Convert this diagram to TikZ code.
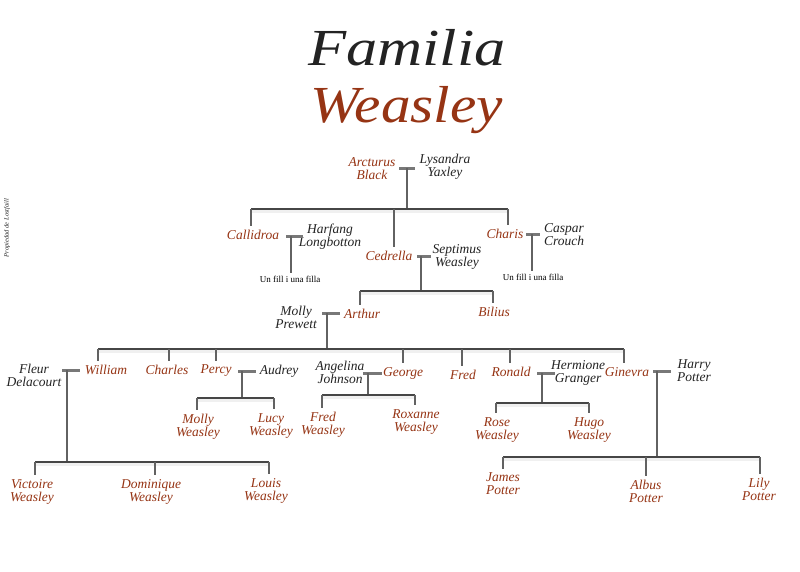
\documentclass[tikz,border=0pt]{standalone}
\usepackage{fontspec}
\setmainfont{Liberation Serif}
\definecolor{rust}{RGB}{150,52,20}
\definecolor{ink}{RGB}{35,35,35}
\definecolor{barcol}{RGB}{120,120,120}
\definecolor{linecol}{RGB}{70,70,70}
\begin{document}
\begin{tikzpicture}[x=1pt,y=-1pt,
  wz/.style={text=rust,font=\itshape\fontsize{13.5}{13}\selectfont,align=center,inner sep=0pt},
  sp/.style={text=ink,font=\itshape\fontsize{13.5}{13}\selectfont,align=center,inner sep=0pt},
  note/.style={text=black,font=\fontsize{9}{10}\selectfont,inner sep=0pt},
  tbar/.style={draw=barcol,line width=3pt},
  vline/.style={draw=linecol!85,line width=1.5pt},
  sib/.style={draw=linecol,line width=1.4pt,
    preaction={draw=gray!12,line width=3pt,transform canvas={yshift=-2.2pt}}},
  drop/.style={draw=linecol!85,line width=1.3pt,shorten >=4pt},
  ttl/.style={font=\itshape\fontsize{52}{52}\selectfont,inner sep=0pt,anchor=base}]
\fill[white] (0,0) rectangle (800,571);
\useasboundingbox (0,0) rectangle (800,571);

% title
\node[ttl,text=ink] (t1) at (407,65) {\scalebox{1.2}[1]{Familia}};
\node[ttl,text=rust] (t2) at (407,122) {\scalebox{1.14}[1]{Weasley}};
\node[rotate=90,text=ink,font=\itshape\fontsize{6.5}{6.5}\selectfont,inner sep=0pt] (credit) at (7,228) {Propiedad de Lostfaill};

% people
\node[wz] (arcturus) at (372,169) {Arcturus\\Black};
\node[sp] (lysandra) at (445,167) {Lysandra\\Yaxley};
\node[wz] (callidroa) at (253,235) {Callidroa};
\node[sp] (harfang) at (330,237) {Harfang\\Longbotton};
\node[note] (fill1) at (290,279) {Un fill i una filla};
\node[wz] (cedrella) at (389,256) {Cedrella};
\node[sp] (septimus) at (457,257) {Septimus\\Weasley};
\node[wz] (charis) at (505,234) {Charis};
\node[sp] (caspar) at (564,235) {Caspar\\Crouch};
\node[note] (fill2) at (533,277) {Un fill i una filla};
\node[sp] (molly) at (296,317) {Molly\\Prewett};
\node[wz] (arthur) at (362,314) {Arthur};
\node[wz] (bilius) at (494,312) {Bilius};
\node[sp] (fleur) at (34,375) {Fleur\\Delacourt};
\node[wz] (william) at (106,370) {William};
\node[wz] (charles) at (167,370) {Charles};
\node[wz] (percy) at (216,371) {Percy};
\node[sp] (audrey) at (279,371) {Audrey};
\node[sp] (angelina) at (340,372) {Angelina\\Johnson};
\node[wz] (george) at (403,373) {George};
\node[wz] (fred) at (463,375) {Fred};
\node[wz] (ronald) at (511,372) {Ronald};
\node[sp] (hermione) at (578,373) {Hermione\\Granger};
\node[wz] (ginevra) at (627,372) {Ginevra};
\node[sp] (harry) at (694,371) {Harry\\Potter};
\node[wz] (mollyw) at (198,427) {Molly\\Weasley};
\node[wz] (lucy) at (271,426) {Lucy\\Weasley};
\node[wz] (fredw) at (323,425) {Fred\\Weasley};
\node[wz] (roxanne) at (416,422) {Roxanne\\Weasley};
\node[wz] (rose) at (497,430) {Rose\\Weasley};
\node[wz] (hugo) at (589,430) {Hugo\\Weasley};
\node[wz] (victoire) at (32,492) {Victoire\\Weasley};
\node[wz] (dominique) at (151,492) {Dominique\\Weasley};
\node[wz] (louis) at (266,491) {Louis\\Weasley};
\node[wz] (james) at (503,484) {James\\Potter};
\node[wz] (albus) at (646,491) {Albus\\Potter};
\node[wz] (lily) at (759,489) {Lily\\Potter};

% Arcturus + Lysandra
\coordinate (m1) at (407,168);
\coordinate (s1) at (407,209);
\coordinate (s1a) at (251,209);
\coordinate (s1b) at (394,209);
\coordinate (s1c) at (508,209);
\draw[tbar] ([xshift=-8pt]m1) -- ([xshift=8pt]m1);
\draw[vline] (m1) -- (s1);
\draw[sib] (s1a) -- (s1c);
\draw[drop] (s1a) -- (s1a |- callidroa.north);
\draw[drop] (s1b) -- (s1b |- cedrella.north);
\draw[drop] (s1c) -- (s1c |- charis.north);

% Callidroa + Harfang
\coordinate (m2) at (294.5,236);
\coordinate (v2) at (291,236);
\draw[tbar] ([xshift=-8.5pt]m2) -- ([xshift=8.5pt]m2);
\draw[vline,shorten >=3pt] (v2) -- (v2 |- fill1.north);

% Charis + Caspar
\coordinate (m3) at (533,234);
\coordinate (v3) at (532,234);
\draw[tbar] ([xshift=-7pt]m3) -- ([xshift=7pt]m3);
\draw[vline,shorten >=3pt] (v3) -- (v3 |- fill2.north);

% Cedrella + Septimus
\coordinate (m4) at (424,256);
\coordinate (v4) at (421,256);
\coordinate (s4) at (421,291);
\coordinate (s4a) at (360,291);
\coordinate (s4b) at (493,291);
\draw[tbar] ([xshift=-7pt]m4) -- ([xshift=7pt]m4);
\draw[vline] (v4) -- (s4);
\draw[sib] (s4a) -- (s4b);
\draw[drop] (s4a) -- (s4a |- arthur.north);
\draw[drop] (s4b) -- (s4b |- bilius.north);

% Molly + Arthur
\coordinate (m5) at (331,313);
\coordinate (v5) at (327,313);
\coordinate (s5) at (327,349);
\coordinate (s5a) at (98,349);
\coordinate (s5b) at (169,349);
\coordinate (s5c) at (216,349);
\coordinate (s5d) at (403,349);
\coordinate (s5e) at (462,349);
\coordinate (s5f) at (510,349);
\coordinate (s5g) at (624,349);
\draw[tbar] ([xshift=-9pt]m5) -- ([xshift=9pt]m5);
\draw[vline] (v5) -- (s5);
\draw[sib] (s5a) -- (s5g);
\draw[drop] (s5a) -- (s5a |- william.north);
\draw[drop] (s5b) -- (s5b |- charles.north);
\draw[drop] (s5c) -- (s5c |- percy.north);
\draw[drop] (s5d) -- (s5d |- george.north);
\draw[drop] (s5e) -- (s5e |- fred.north);
\draw[drop] (s5f) -- (s5f |- ronald.north);
\draw[drop] (s5g) -- (s5g |- ginevra.north);

% Fleur + William
\coordinate (m6) at (71,370);
\coordinate (v6) at (67,370);
\coordinate (s6) at (67,462);
\coordinate (s6a) at (35,462);
\coordinate (s6b) at (155,462);
\coordinate (s6c) at (269,462);
\draw[tbar] ([xshift=-9pt]m6) -- ([xshift=9pt]m6);
\draw[vline] (v6) -- (s6);
\draw[sib] (s6a) -- (s6c);
\draw[drop] (s6a) -- (s6a |- victoire.north);
\draw[drop] (s6b) -- (s6b |- dominique.north);
\draw[drop] (s6c) -- (s6c |- louis.north);

% Percy + Audrey
\coordinate (m7) at (247,371);
\coordinate (v7) at (242,371);
\coordinate (s7) at (242,398);
\coordinate (s7a) at (197,398);
\coordinate (s7b) at (274,398);
\draw[tbar] ([xshift=-9pt]m7) -- ([xshift=9pt]m7);
\draw[vline] (v7) -- (s7);
\draw[sib] (s7a) -- (s7b);
\draw[drop] (s7a) -- (s7a |- mollyw.north);
\draw[drop] (s7b) -- (s7b |- lucy.north);

% Angelina + George
\coordinate (m8) at (372.5,373);
\coordinate (v8) at (368,373);
\coordinate (s8) at (368,395);
\coordinate (s8a) at (322,395);
\coordinate (s8b) at (415,395);
\draw[tbar] ([xshift=-9.5pt]m8) -- ([xshift=9.5pt]m8);
\draw[vline] (v8) -- (s8);
\draw[sib] (s8a) -- (s8b);
\draw[drop] (s8a) -- (s8a |- fredw.north);
\draw[drop] (s8b) -- (s8b |- roxanne.north);

% Ronald + Hermione
\coordinate (m9) at (546,373);
\coordinate (v9) at (542,373);
\coordinate (s9) at (542,403);
\coordinate (s9a) at (496,403);
\coordinate (s9b) at (589,403);
\draw[tbar] ([xshift=-9pt]m9) -- ([xshift=9pt]m9);
\draw[vline] (v9) -- (s9);
\draw[sib] (s9a) -- (s9b);
\draw[drop] (s9a) -- (s9a |- rose.north);
\draw[drop] (s9b) -- (s9b |- hugo.north);

% Ginevra + Harry
\coordinate (m10) at (662,371);
\coordinate (v10) at (657,371);
\coordinate (s10) at (657,457);
\coordinate (s10a) at (503,457);
\coordinate (s10b) at (646,457);
\coordinate (s10c) at (760,457);
\draw[tbar] ([xshift=-9pt]m10) -- ([xshift=9pt]m10);
\draw[vline] (v10) -- (s10);
\draw[sib] (s10a) -- (s10c);
\draw[drop] (s10a) -- (s10a |- james.north);
\draw[drop] (s10b) -- (s10b |- albus.north);
\draw[drop] (s10c) -- (s10c |- lily.north);
\end{tikzpicture}
\end{document}
